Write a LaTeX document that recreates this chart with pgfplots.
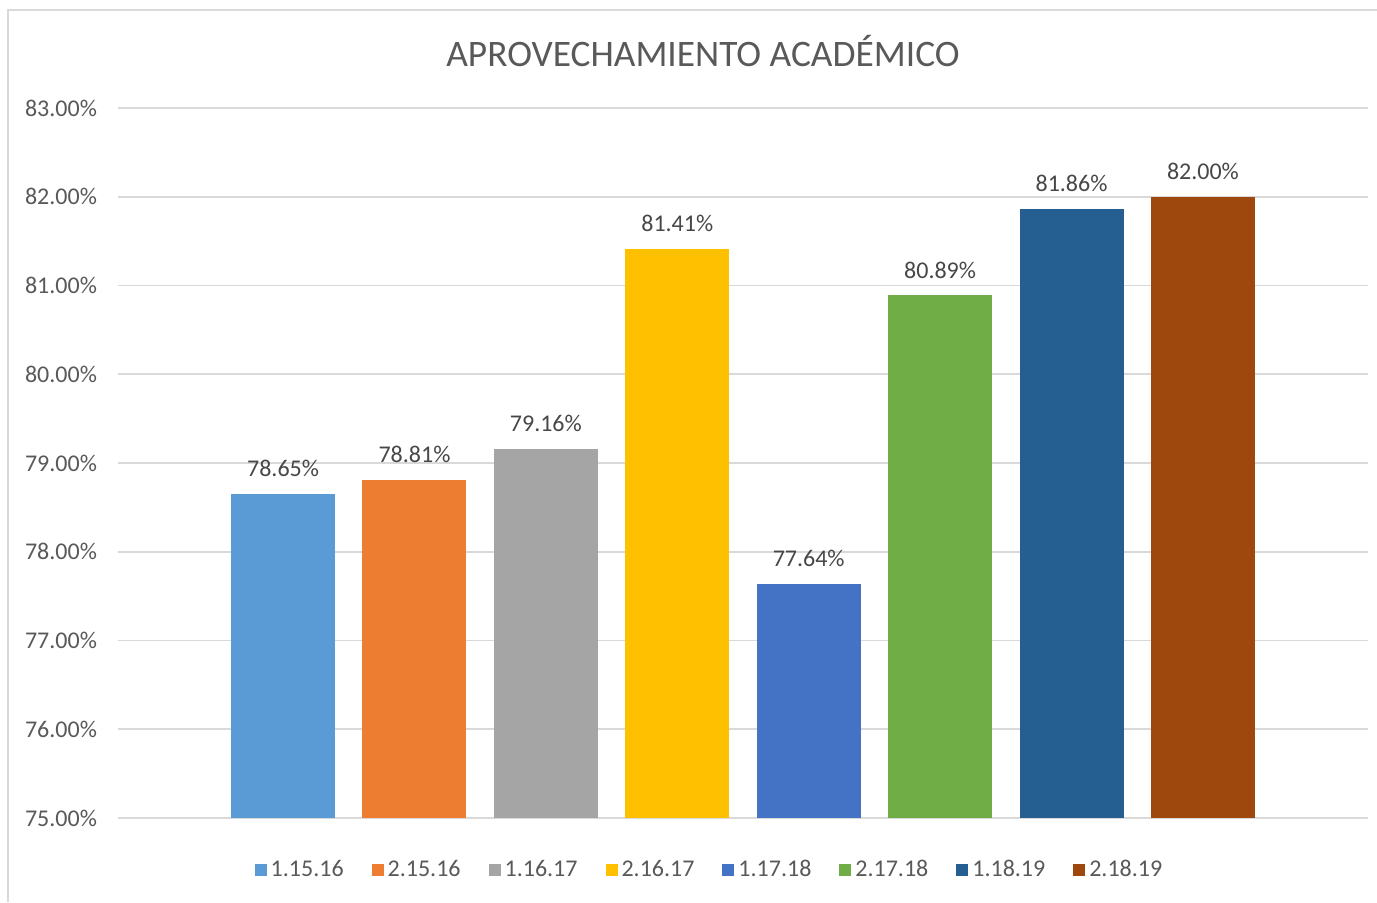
\documentclass[border=0pt]{standalone}
\usepackage{fontspec}
\setmainfont{Carlito}
\usepackage{pgfplots}
\pgfplotsset{compat=1.18}

\definecolor{txt}{HTML}{595959}
\definecolor{grd}{HTML}{D9D9D9}
\definecolor{c1}{HTML}{5B9BD5}
\definecolor{c2}{HTML}{ED7D31}
\definecolor{c3}{HTML}{A5A5A5}
\definecolor{c4}{HTML}{FFC000}
\definecolor{c5}{HTML}{4472C4}
\definecolor{c6}{HTML}{70AD47}
\definecolor{c7}{HTML}{255E91}
\definecolor{c8}{HTML}{9E480E}

\begin{document}
\begin{tikzpicture}
\path[use as bounding box] (0,0) rectangle (688.5pt,451pt);
% chart frame (only left and top edges visible)
\draw[grd,line width=0.8pt] (4pt,0) -- (4pt,446pt) -- (688.5pt,446pt);
\node[txt,font=\fontsize{18.7}{21}\selectfont] at (351.5pt,425.5pt) {APROVECHAMIENTO ACADÉMICO};
\begin{axis}[
scale only axis,
at={(59pt,42pt)},anchor=south west,
width=625pt,height=355pt,
xmin=-1.256,xmax=8.256,ymin=75,ymax=83,
ytick={75,76,...,83},xtick=\empty,
ybar,bar width=52pt,bar shift=0pt,
axis line style={draw=none},
major tick length=0pt,
ymajorgrids,grid style={grd,line width=0.8pt},
/pgf/number format/assume math mode=true,
yticklabel={\pgfmathprintnumber[fixed,fixed zerofill,precision=2]{\tick}\%},
yticklabel style={txt,font=\fontsize{12}{14}\selectfont,xshift=-7pt},
nodes near coords={\pgfmathprintnumber[fixed,fixed zerofill,precision=2]{\pgfplotspointmeta}\%},
nodes near coords style={font=\fontsize{12}{14}\selectfont,text=txt!80!black,yshift=5pt},
/pgf/number format/.cd,fixed,fixed zerofill,precision=2,/pgfplots/.cd,
legend style={at={(0.474,-0.0732)},anchor=center,draw=none,
  font=\fontsize{12}{14}\selectfont,text=txt,legend columns=-1,
  /tikz/every even column/.append style={column sep=12pt},
  inner sep=0pt},
legend image code/.code={\fill[#1] (0pt,-3pt) rectangle (6pt,3pt);},
]
\addplot[fill=c1,draw=none] coordinates {(0,78.65)};
\addlegendentry{1.15.16}
\addplot[fill=c2,draw=none] coordinates {(1,78.81)};
\addlegendentry{2.15.16}
\addplot[fill=c3,draw=none] coordinates {(2,79.16)};
\addlegendentry{1.16.17}
\addplot[fill=c4,draw=none] coordinates {(3,81.41)};
\addlegendentry{2.16.17}
\addplot[fill=c5,draw=none] coordinates {(4,77.64)};
\addlegendentry{1.17.18}
\addplot[fill=c6,draw=none] coordinates {(5,80.89)};
\addlegendentry{2.17.18}
\addplot[fill=c7,draw=none] coordinates {(6,81.86)};
\addlegendentry{1.18.19}
\addplot[fill=c8,draw=none] coordinates {(7,82.00)};
\addlegendentry{2.18.19}
\end{axis}
\end{tikzpicture}
\end{document}
